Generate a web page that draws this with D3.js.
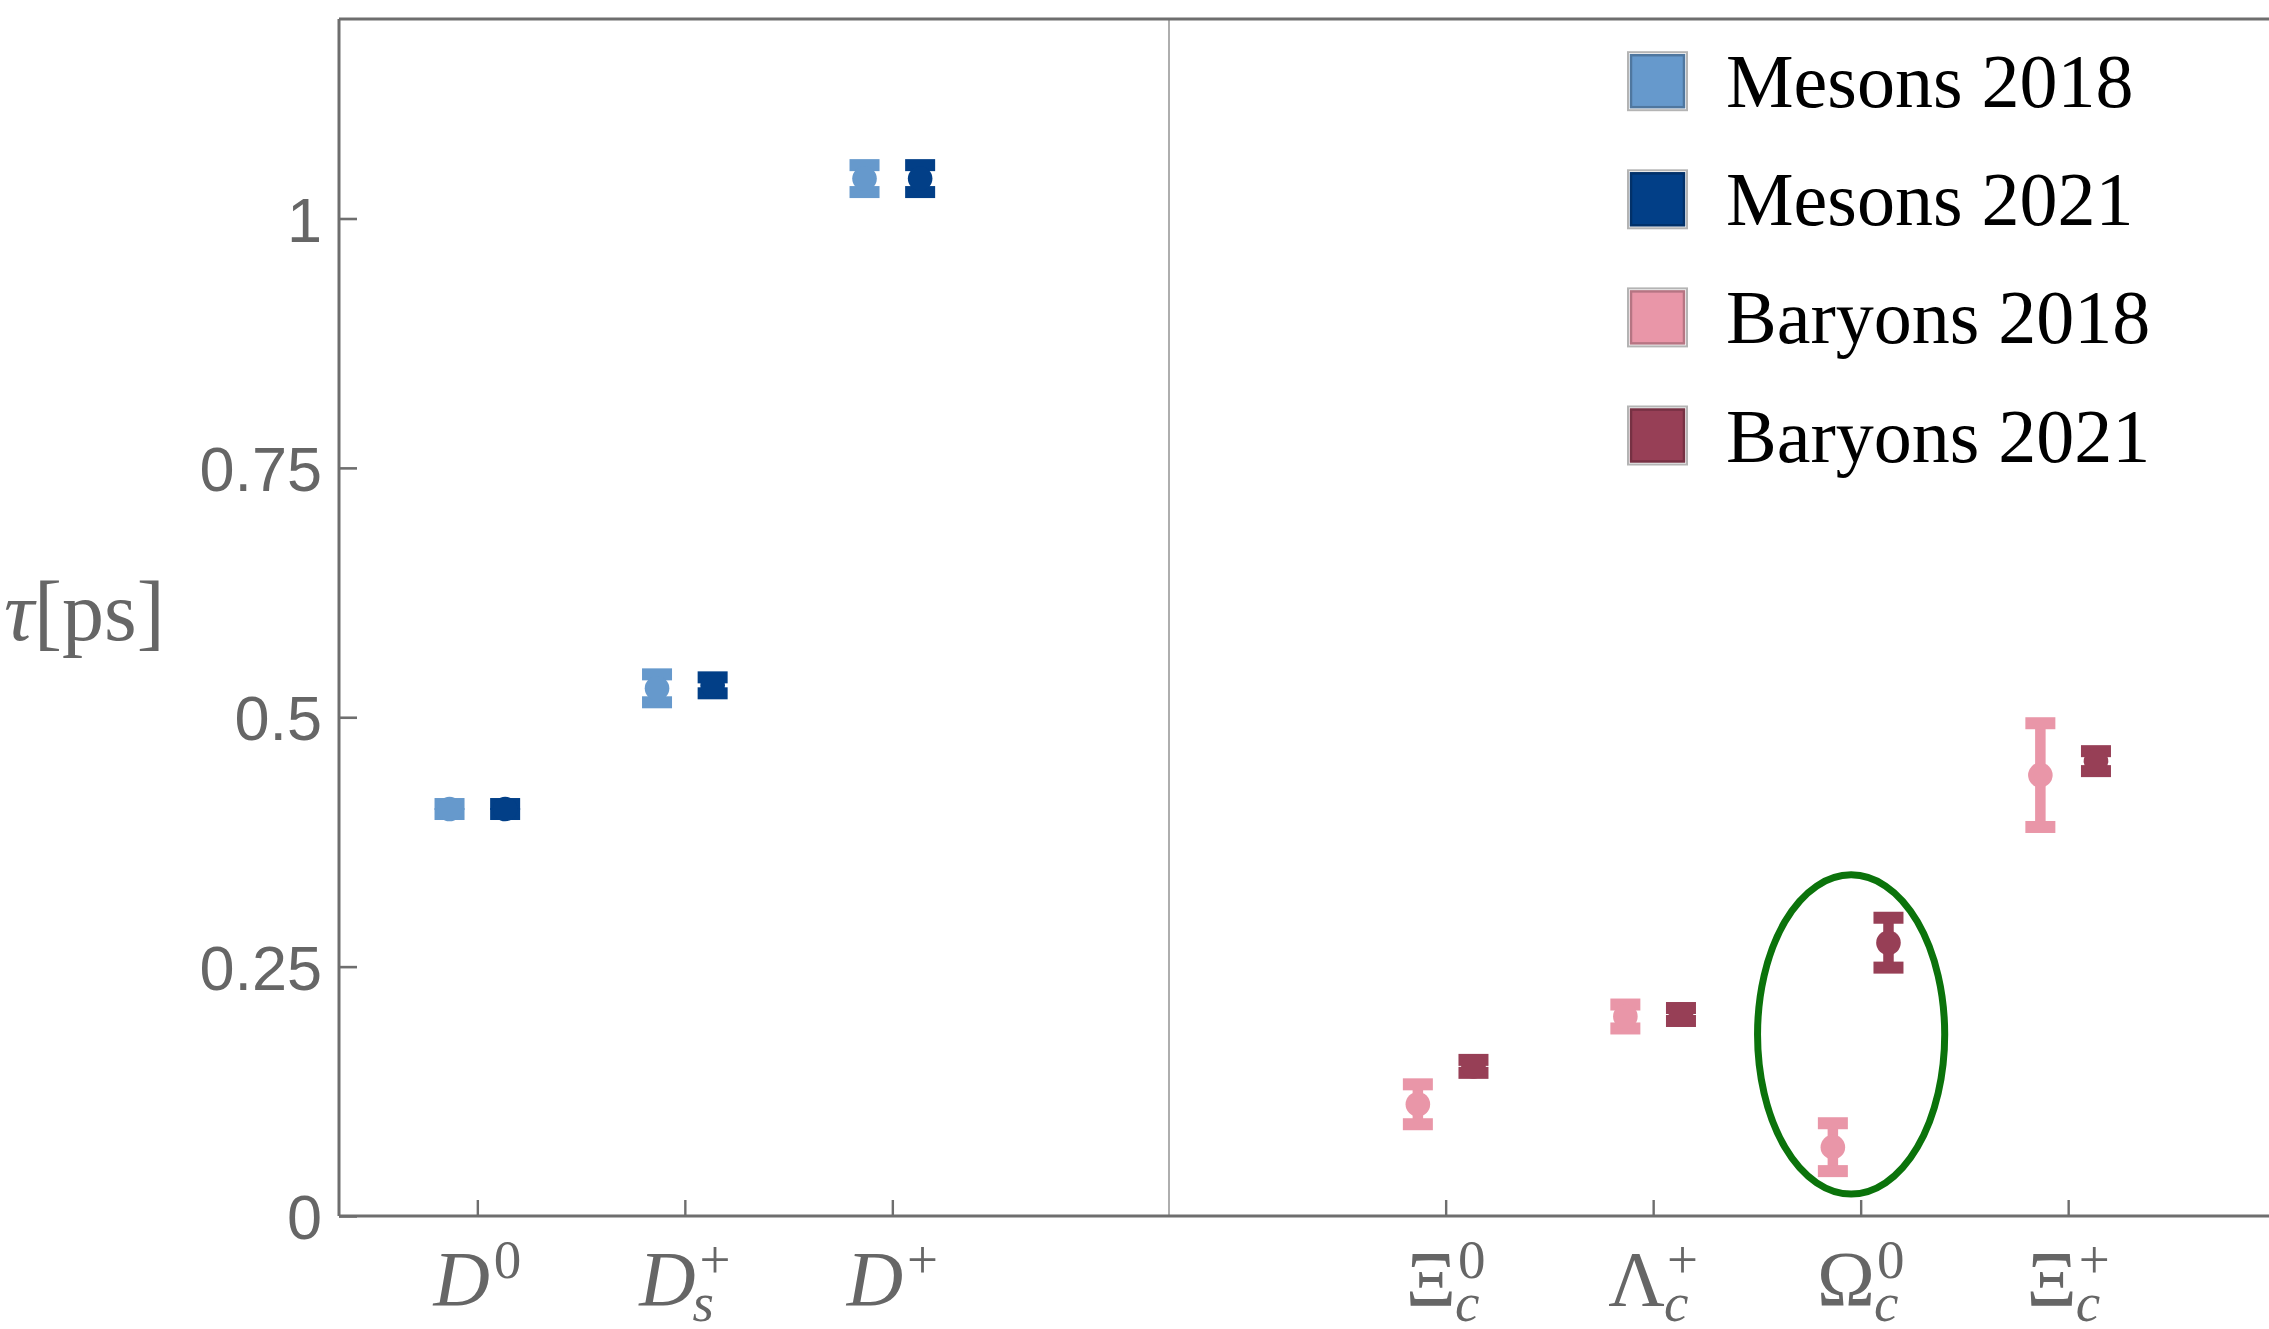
<!DOCTYPE html>
<html><head><meta charset="utf-8">
<script src="https://cdn.jsdelivr.net/npm/d3@7"></script>
<style>html,body{margin:0;padding:0;background:#fff;} svg{display:block;}</style>
</head><body>
<svg id="chart" width="2269" height="1329"></svg>
<script>
// ---------------- data ----------------
const mesonBase = ["D", "D", "D"];
const mesonSup = ["0", "+", "+"];
const mesonSub = ["", "s", ""];
const mesonPos = [1, 2, 3];
const mesons2018 = [0.408, 0.529, 1.040];
const mesons2018Err = [0.005, 0.014, 0.0135];
const mesons2021 = [0.408, 0.532, 1.040];
const mesons2021Err = [0.005, 0.008, 0.0135];

const baryonBase = ["Ξ", "Λ", "Ω", "Ξ"];
const baryonSup = ["0", "+", "0", "+"];
const baryonSub = ["c", "c", "c", "c"];
const baryonPos = [17 / 3, 20 / 3, 23 / 3, 26 / 3];
const baryons2018 = [0.112, 0.200, 0.069, 0.442];
const baryons2018Err = [0.020, 0.012, 0.024, 0.052];
const baryons2021 = [0.150, 0.202, 0.274, 0.456];
const baryons2021Err = [0.0065, 0.0065, 0.025, 0.010];

const yTicks = [0, 0.25, 0.5, 0.75, 1];
const yTickLabels = ["0", "0.25", "0.5", "0.75", "1"];
const seriesNames = ["Mesons 2018", "Mesons 2021", "Baryons 2018", "Baryons 2021"];
const seriesColors = ["#6699cc", "#023f87", "#e996a8", "#973f56"];
const separatorPos = 13 / 3;
const highlight = { x: 23 / 3 - 0.046, y: 0.182, rx: 0.451, ry: 0.160 };

// ---------------- layout ----------------
const W = 2269, H = 1329;
const L = 339, T = 19, B = 1216, R = 2269;
const axisColor = "#6e6e6e";
const textGray = "#666666";
const pairOffset = 0.134;   // x offset of the two years around a tick
const barW = 10.5, capW = 30, capT = 12, markerR = 12.3;

const svg = d3.select("#chart");
svg.append("rect").attr("width", W).attr("height", H).attr("fill", "#fff");

const x = d3.scaleLinear().domain([1 / 3, 1 / 3 + (R - L) / 207.5]).range([L, R]);
const y = d3.scaleLinear().domain([0, 1.2]).range([B, T]);

// separator
svg.append("line")
  .attr("x1", x(separatorPos)).attr("x2", x(separatorPos))
  .attr("y1", T).attr("y2", B)
  .attr("stroke", "#9a9a9a").attr("stroke-width", 1.6);

// y axis
const yAxis = d3.axisLeft(y).tickValues(yTicks)
  .tickFormat((d, i) => yTickLabels[i])
  .tickSizeInner(-18).tickSizeOuter(0).tickPadding(17);
const gy = svg.append("g").attr("transform", `translate(${L},0)`).call(yAxis);
gy.select(".domain").remove();
gy.selectAll(".tick line").attr("stroke", axisColor).attr("stroke-width", 2.6);
gy.selectAll(".tick text")
  .attr("fill", textGray)
  .attr("font-family", "'Liberation Sans', Arial, sans-serif")
  .attr("font-size", 63)
  .attr("dy", "0.36em");

// x axis ticks
const allPos = mesonPos.concat(baryonPos);
const xAxis = d3.axisBottom(x).tickValues(allPos).tickFormat("")
  .tickSizeInner(-16).tickSizeOuter(0);
const gx = svg.append("g").attr("transform", `translate(0,${B})`).call(xAxis);
gx.select(".domain").remove();
gx.selectAll(".tick line").attr("stroke", axisColor).attr("stroke-width", 2.4);

// frame lines
svg.append("line").attr("x1", L).attr("x2", R).attr("y1", T).attr("y2", T)
  .attr("stroke", axisColor).attr("stroke-width", 3);
svg.append("line").attr("x1", L).attr("x2", L).attr("y1", T).attr("y2", B)
  .attr("stroke", axisColor).attr("stroke-width", 3);
svg.append("line").attr("x1", L).attr("x2", R).attr("y1", B).attr("y2", B)
  .attr("stroke", axisColor).attr("stroke-width", 3);

// y label
const yl = svg.append("text").attr("x", 4).attr("y", 640)
  .attr("font-family", "'Liberation Serif', 'Times New Roman', serif")
  .attr("font-size", 84).attr("fill", textGray);
yl.append("tspan").attr("font-style", "italic").text("τ");
yl.append("tspan").text("[ps]");

// x labels
const labelFont = "'Liberation Serif', 'Times New Roman', serif";
const labelBase = 1305;
function drawLabel(pos, base, sup, sub, italicBase) {
  const g = svg.append("g");
  const t = g.append("text").attr("x", 0).attr("y", labelBase)
    .attr("font-family", labelFont).attr("font-size", 78)
    .attr("font-style", italicBase ? "italic" : "normal")
    .attr("fill", textGray).text(base);
  const bw = t.node().getComputedTextLength();
  const supX = bw + (italicBase ? 4 : 2);
  const st = g.append("text").attr("x", supX).attr("y", labelBase - 27)
    .attr("font-family", labelFont).attr("font-size", 55)
    .attr("fill", textGray).text(sup);
  let w = supX + st.node().getComputedTextLength();
  if (sub) {
    const sb = g.append("text").attr("x", bw - (italicBase ? 3 : 1)).attr("y", labelBase + 16)
      .attr("font-family", labelFont).attr("font-size", 55).attr("font-style", "italic")
      .attr("fill", textGray).text(sub);
    w = Math.max(w, bw + sb.node().getComputedTextLength());
  }
  g.attr("transform", `translate(${x(pos) - w / 2},0)`);
}
mesonPos.forEach((p, i) => drawLabel(p, mesonBase[i], mesonSup[i], mesonSub[i], true));
baryonPos.forEach((p, i) => drawLabel(p, baryonBase[i], baryonSup[i], baryonSub[i], false));

// error bar points
function drawSeries(pos, vals, errs, color, dx) {
  const g = svg.append("g").attr("fill", color);
  const data = pos.map((p, i) => ({ p: p + dx, v: vals[i], e: errs[i] }));
  g.selectAll("rect.bar").data(data).join("rect").attr("class", "bar")
    .attr("x", d => x(d.p) - barW / 2).attr("width", barW)
    .attr("y", d => y(d.v + d.e)).attr("height", d => y(d.v - d.e) - y(d.v + d.e));
  g.selectAll("rect.capTop").data(data).join("rect").attr("class", "capTop")
    .attr("x", d => x(d.p) - capW / 2).attr("width", capW)
    .attr("y", d => y(d.v + d.e) - capT / 2).attr("height", capT);
  g.selectAll("rect.capBot").data(data).join("rect").attr("class", "capBot")
    .attr("x", d => x(d.p) - capW / 2).attr("width", capW)
    .attr("y", d => y(d.v - d.e) - capT / 2).attr("height", capT);
  g.selectAll("circle").data(data).join("circle")
    .attr("cx", d => x(d.p)).attr("cy", d => y(d.v)).attr("r", markerR);
}
drawSeries(mesonPos, mesons2018, mesons2018Err, seriesColors[0], -pairOffset);
drawSeries(mesonPos, mesons2021, mesons2021Err, seriesColors[1], pairOffset);
drawSeries(baryonPos, baryons2018, baryons2018Err, seriesColors[2], -pairOffset);
drawSeries(baryonPos, baryons2021, baryons2021Err, seriesColors[3], pairOffset);

// highlight ellipse
svg.append("ellipse")
  .attr("cx", x(highlight.x)).attr("cy", y(highlight.y))
  .attr("rx", x(highlight.x + highlight.rx) - x(highlight.x))
  .attr("ry", y(0) - y(highlight.ry))
  .attr("fill", "none").attr("stroke", "#0b730b").attr("stroke-width", 7);

// legend
const lg = svg.append("g");
seriesNames.forEach((name, i) => {
  const cy = 81.2 + 118.1 * i;
  lg.append("rect").attr("x", 1628).attr("y", cy - 29).attr("width", 59).attr("height", 58)
    .attr("fill", "none").attr("stroke", "#b4b4b4").attr("stroke-width", 2);
  lg.append("rect").attr("x", 1631).attr("y", cy - 26).attr("width", 53).attr("height", 52)
    .attr("fill", seriesColors[i])
    .attr("stroke", d3.color(seriesColors[i]).darker(0.7)).attr("stroke-width", 2.5);
  lg.append("text").attr("x", 1726).attr("y", cy + 26)
    .attr("font-family", "'Liberation Serif', 'Times New Roman', serif")
    .attr("font-size", 76).attr("fill", "#000").text(name);
});
</script>
</body></html>
